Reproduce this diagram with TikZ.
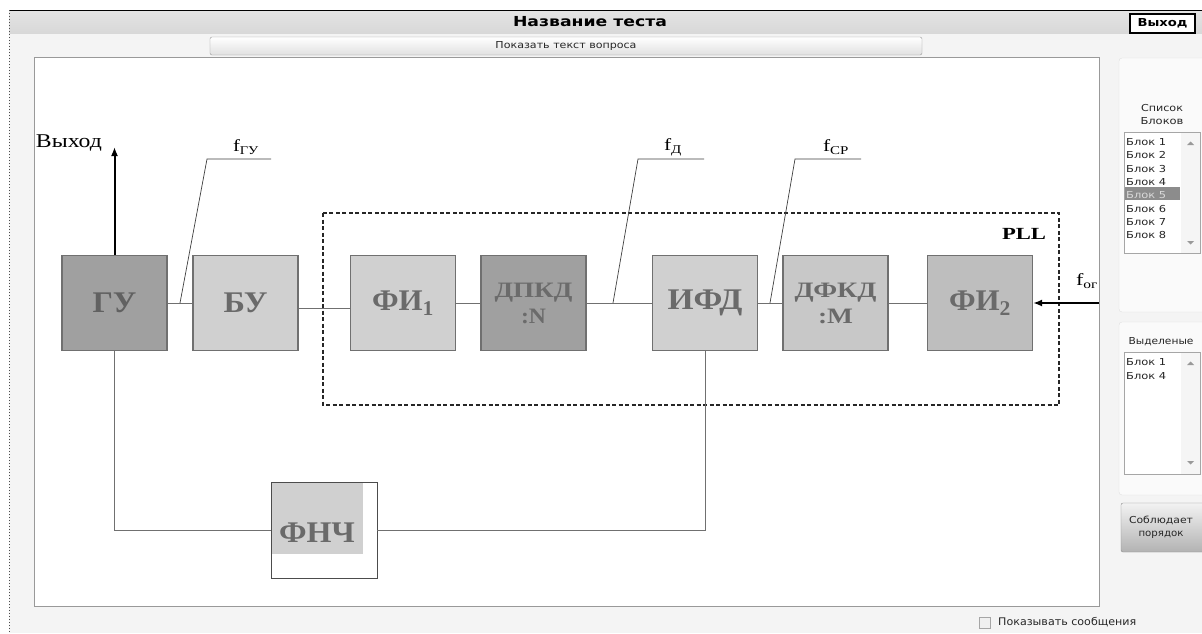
\documentclass[tikz,border=0pt]{standalone}
\usepackage{graphicx}
\usepackage{fontspec}
\setmainfont{Liberation Serif}
\setsansfont{DejaVu Sans}
\usetikzlibrary{arrows.meta}
\newcommand{\fitw}[2]{\resizebox{#1}{\height}{#2}}
\definecolor{win}{HTML}{F4F4F4}
\definecolor{bar}{HTML}{D8D8D8}
\definecolor{dk}{HTML}{A0A0A0}
\definecolor{lt}{HTML}{D0D0D0}
\definecolor{md}{HTML}{C8C8C8}
\definecolor{txt}{HTML}{6A6A6A}
\definecolor{ln}{HTML}{707070}
\definecolor{sel}{HTML}{8C8C8C}
\tikzset{
  blk/.style={draw=ln, line width=1.1pt, minimum width=105pt, minimum height=95pt, inner sep=0pt,
    font=\fontsize{30}{30}\selectfont\bfseries, text=txt, align=center},
  blk2/.style={blk, font=\fontsize{22}{26}\selectfont\bfseries},
  wire/.style={draw=ln, line width=0.9pt},
  lead/.style={draw=black!75, line width=0.7pt},
  flab/.style={font=\fontsize{17}{17}\selectfont, inner sep=0pt},
  ui/.style={font=\sffamily\fontsize{9.6}{13}\selectfont, inner sep=0pt, text=black!85},
  item/.style={ui, anchor=west},
  lbox/.style={draw=black!35, fill=white, line width=0.8pt},
}
\begin{document}
\begin{tikzpicture}[x=1pt,y=-1pt]
\useasboundingbox (0,0) rectangle (1202,633);
% window
\fill[white] (0,0) rectangle (1202,633);
\fill[win] (9,10) rectangle (1202,633);
\shade[top color=bar!70, bottom color=bar] (9,10) rectangle (1202,33);
\draw[black, line width=1.5pt] (9,10.5) -- (1202,10.5);
\draw[black!70, dotted, line width=1pt] (9,10) -- (9,633);
\node[font=\sffamily\bfseries\fontsize{13.8}{15}\selectfont, inner sep=0pt] (title) at (590,22) {\fitw{154pt}{Название теста}};
\node[draw=black, line width=1.3pt, fill=white, minimum width=65pt, minimum height=19pt, inner sep=0pt,
      font=\sffamily\bfseries\fontsize{11}{12}\selectfont] (exitbtn) at (1162.5,23.5) {\fitw{50pt}{Выход}};
\shade[top color=white, bottom color=black!12, draw=black!40, rounded corners=2pt] (210,37) rectangle (922,55);
\node[ui] (showq) at (566,46) {\fitw{141pt}{Показать текст вопроса}};
% canvas
\draw[black!40, fill=white, line width=1pt] (34,57) rectangle (1099,606);
% right panels
\draw[black!12, fill=win!50!white, rounded corners=3pt] (1119,58) rectangle (1212,312);
\draw[black!12, fill=win!50!white, rounded corners=3pt] (1119,322) rectangle (1212,495);
\node[ui, align=center] (lst) at (1162,114) {\fitw{42pt}{Список}\\\fitw{43pt}{Блоков}};
\draw[lbox] (1124,132) rectangle (1200,253);
\fill[black!4] (1181,133) rectangle (1199.5,252.5);
\fill[black!40] (1187,145) -- (1190.5,141.5) -- (1194,145) -- cycle;
\fill[black!40] (1187,241) -- (1190.5,244.5) -- (1194,241) -- cycle;
\fill[sel] (1125,187) rectangle (1180,200);
\node[item] (b1) at (1126,142) {\fitw{40pt}{Блок 1}};
\node[item] (b2) at (1126,155.3) {\fitw{40pt}{Блок 2}};
\node[item] (b3) at (1126,168.6) {\fitw{40pt}{Блок 3}};
\node[item] (b4) at (1126,181.9) {\fitw{40pt}{Блок 4}};
\node[item, text=white!85!black] (b5) at (1126,195.2) {\fitw{40pt}{Блок 5}};
\node[item] (b6) at (1126,208.5) {\fitw{40pt}{Блок 6}};
\node[item] (b7) at (1126,221.8) {\fitw{40pt}{Блок 7}};
\node[item] (b8) at (1126,235.1) {\fitw{40pt}{Блок 8}};
\node[ui] (vyd) at (1161,342) {\fitw{65pt}{Выделеные}};
\draw[lbox] (1124,352) rectangle (1200,474);
\fill[black!4] (1181,353) rectangle (1199.5,473.5);
\fill[black!40] (1187,365) -- (1190.5,361.5) -- (1194,365) -- cycle;
\fill[black!40] (1187,461) -- (1190.5,464.5) -- (1194,461) -- cycle;
\node[item] (s1) at (1126,362) {\fitw{40pt}{Блок 1}};
\node[item] (s4) at (1126,376) {\fitw{40pt}{Блок 4}};
\shade[top color=black!5, bottom color=black!30, draw=black!45, rounded corners=2pt] (1121,503) rectangle (1205,552);
\node[ui, align=center] (ordbtn) at (1161,527) {\fitw{64pt}{Соблюдает}\\\fitw{45pt}{порядок}};
\draw[black!35, fill=black!6] (979,617) rectangle (990,628);
\node[ui, anchor=west, font=\sffamily\fontsize{10.5}{12}\selectfont] (showmsg) at (998,622.5) {\fitw{138pt}{Показывать сообщения}};
% diagram blocks
\node[blk, fill=dk, text=black!62] (gu) at (114.5,303) {\fitw{44pt}{ГУ}};
\node[blk, fill=lt] (bu) at (245.5,303) {\fitw{44pt}{БУ}};
\node[blk, fill=lt] (fi1) at (403,303) {\fitw{62pt}{ФИ\textsubscript{1}}};
\node[blk2, fill=dk, text=black!58] (dpkd) at (533.5,303) {\fitw{78pt}{ДПКД}\\\fitw{25pt}{:N}};
\node[blk, fill=lt] (ifd) at (705,303) {\fitw{75pt}{ИФД}};
\node[blk2, fill=md] (dfkd) at (835.5,303) {\fitw{82pt}{ДФКД}\\\fitw{35pt}{:M}};
\node[blk, fill=md!95!black] (fi2) at (980,303) {\fitw{62pt}{ФИ\textsubscript{2}}};
% FNC
\draw[black!70, line width=1pt] (271,482) rectangle (377,578);
\fill[lt] (271.5,482.5) rectangle (363,554);
\node[draw=none, minimum width=106pt, minimum height=96pt, inner sep=0pt] (fnc) at (324,530) {};
\node[font=\fontsize{30}{30}\selectfont\bfseries, text=txt, inner sep=0pt] (fnct) at (317,533) {\fitw{76pt}{ФНЧ}};
% PLL
\draw[black!85, line width=1.6pt, dash pattern=on 4pt off 2.5pt] (323,213) rectangle (1059,405);
\node[font=\fontsize{17}{18}\selectfont\bfseries, inner sep=0pt] (pll) at (1024,234) {\fitw{44pt}{PLL}};
% wires
\draw[wire] (gu.east) -- (bu.west);
\draw[wire] ([yshift=-5pt]bu.east) -- ([yshift=-5pt]fi1.west);
\draw[wire] (fi1.east) -- (dpkd.west);
\draw[wire] (dpkd.east) -- (ifd.west);
\draw[wire] (ifd.east) -- (dfkd.west);
\draw[wire] (dfkd.east) -- (fi2.west);
\draw[wire] (gu.south) |- (fnc.west);
\draw[wire] (fnc.east) -| (ifd.south);
\coordinate (fin) at (1099,303);
\draw[line width=2pt, -{Latex[length=9pt,width=7pt]}] (fin) -- (fi2.east);
\node[flab] (fog) at (1087,281) {\fitw{22pt}{f\textsubscript{ог}}};
\coordinate (outp) at (114.5,147);
\draw[line width=2pt, -{Latex[length=9pt,width=7pt]}] (gu.north) -- (outp);
\node[flab, font=\fontsize{19.5}{20}\selectfont] (vyh) at (69,143) {\fitw{66pt}{Выход}};
% leaders
\coordinate (l1a) at (180,303); \coordinate (l1b) at (207,159); \coordinate (l1c) at (271,159);
\draw[lead] (l1a) -- (l1b) -- (l1c);
\node[flab] (fgu) at (246,147) {\fitw{26pt}{f\textsubscript{ГУ}}};
\coordinate (l2a) at (613,303); \coordinate (l2b) at (638,159); \coordinate (l2c) at (704,159);
\draw[lead] (l2a) -- (l2b) -- (l2c);
\node[flab] (fd) at (673,147) {\fitw{18pt}{f\textsubscript{Д}}};
\coordinate (l3a) at (770,303); \coordinate (l3b) at (795,159); \coordinate (l3c) at (861,159);
\draw[lead] (l3a) -- (l3b) -- (l3c);
\node[flab] (fcp) at (836,147) {\fitw{26pt}{f\textsubscript{СР}}};
\end{tikzpicture}
\end{document}
